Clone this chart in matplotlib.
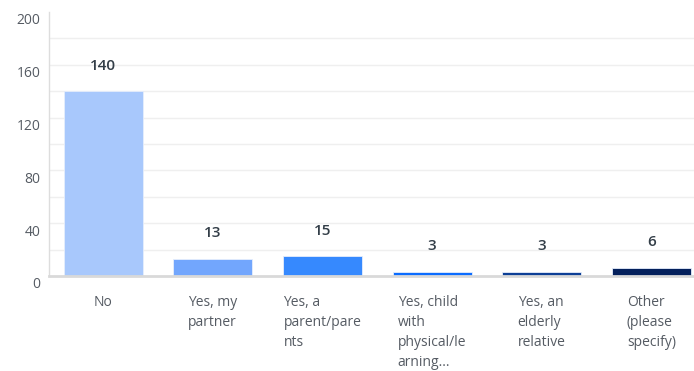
import matplotlib
matplotlib.use("Agg")
import matplotlib.pyplot as plt
from matplotlib.ticker import MultipleLocator
from matplotlib.transforms import ScaledTranslation

categories = [
    "No",
    "Yes, my\npartner",
    "Yes, a\nparent/pare\nnts",
    "Yes, child\nwith\nphysical/le\narning...",
    "Yes, an\nelderly\nrelative",
    "Other\n(please\nspecify)",
]
counts = [140, 13, 15, 3, 3, 6]
bar_colors = ["#a8c8fc", "#72a6fd", "#3689fe", "#0b6cff", "#0d3f96", "#04205c"]
y_ticks = [0, 40, 80, 120, 160, 200]

plt.rcParams["font.family"] = ["Open Sans", "DejaVu Sans"]

fig = plt.figure(figsize=(6.94, 3.71), dpi=100)
ax = fig.add_axes([48.5 / 694, 1 - 276 / 371, (694 - 48.5) / 694, 264 / 371])

x = list(range(len(categories)))
ax.bar(x, counts, width=0.72, color=bar_colors, edgecolor="#e6eefc",
       linewidth=0.6, zorder=3)

for xi, v in zip(x, counts):
    ax.annotate(str(v), (xi, v), xytext=(0, 18.5), textcoords="offset points",
                ha="center", va="center", fontsize=11, fontweight="semibold",
                color="#333e48")

ax.set_xlim(-0.5, 5.39)
ax.set_ylim(0, 200)
ax.set_yticks(y_ticks)
ax.yaxis.set_minor_locator(MultipleLocator(20))
ax.set_xticks(x)
ax.set_xticklabels(categories, multialignment="left", va="top",
                   fontsize=10, color="#555b63", linespacing=1.45)
ax.tick_params(axis="x", length=0, pad=14)
ax.tick_params(axis="y", which="both", length=0, pad=6,
               labelsize=10, labelcolor="#555b63")

# y labels sit slightly below their gridlines
shift = ScaledTranslation(0, -7 / 100, fig.dpi_scale_trans)
for lbl in ax.get_yticklabels():
    lbl.set_transform(lbl.get_transform() + shift)

for g in range(20, 200, 20):
    ax.axhline(g, color="#efefef", linewidth=1.0, zorder=1)

for side in ("top", "right"):
    ax.spines[side].set_visible(False)
ax.spines["left"].set_color("#dddddd")
ax.spines["left"].set_linewidth(1.0)
ax.spines["bottom"].set_color("#d9d9d9")
ax.spines["bottom"].set_linewidth(2.0)
ax.spines["bottom"].set_zorder(4)

fig.savefig("out.png", dpi=100, facecolor="white")
